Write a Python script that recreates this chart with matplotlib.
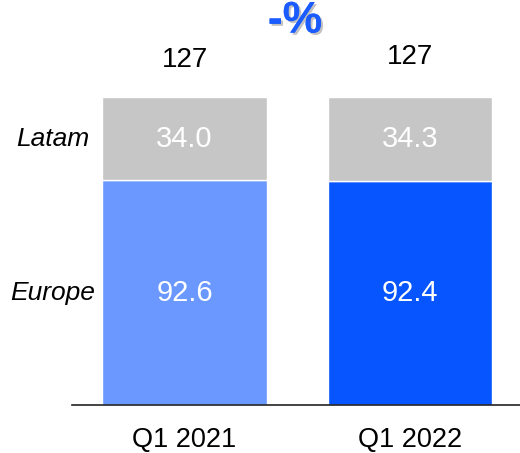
import matplotlib
matplotlib.use("Agg")
import matplotlib.pyplot as plt
import matplotlib.patheffects as pe

plt.rcParams["font.family"] = ["Liberation Sans", "DejaVu Sans"]

periods = ["Q1 2021", "Q1 2022"]
europe = [92.6, 92.4]
latam = [34.0, 34.3]
totals = ["127", "127"]
europe_colors = ["#6A98FF", "#0655FF"]
latam_color = "#C6C6C6"
change_label = "-%"

fig = plt.figure(figsize=(5.2, 4.53), dpi=100)
ax = fig.add_axes([72 / 520, 48 / 453, 448 / 520, 405 / 453])
ax.set_xlim(-0.499, 1.488)
ax.set_ylim(0, 166.7)

x = range(len(periods))
ax.bar(x, europe, width=0.73, color=europe_colors, edgecolor="white", linewidth=1)
ax.bar(x, latam, width=0.73, bottom=europe, color=latam_color, edgecolor="white", linewidth=1)

for i in x:
    ax.text(i, europe[i] / 2, f"{europe[i]:.1f}", ha="center", va="center",
            color="white", fontsize=21)
    ax.text(i, europe[i] + latam[i] / 2, f"{latam[i]:.1f}", ha="center", va="center",
            color="white", fontsize=21)
    ax.text(i, europe[i] + latam[i] + 15.5 + i * 1.2, totals[i], ha="center", va="center",
            color="black", fontsize=20)

ax.text(-0.585, europe[0] / 2, "Europe", ha="center", va="center", style="italic", fontsize=19)
ax.text(-0.585, europe[0] + latam[0] / 2, "Latam", ha="center", va="center", style="italic", fontsize=19)

ax.text(0.49, 158, change_label, ha="center", va="center", color="#1A5CFF",
        fontsize=32, fontweight="bold",
        path_effects=[pe.withSimplePatchShadow(offset=(1.5, -1.5), shadow_rgbFace="#999999", alpha=0.6), pe.Normal()])

for s in ["top", "right", "left"]:
    ax.spines[s].set_visible(False)
ax.spines["bottom"].set_color("#222222")
ax.spines["bottom"].set_linewidth(1.2)
ax.set_yticks([])
ax.set_xticks(list(x))
ax.set_xticklabels(periods, fontsize=19.5)
ax.tick_params(axis="x", length=0, pad=16)

fig.savefig("out.png", dpi=100)
